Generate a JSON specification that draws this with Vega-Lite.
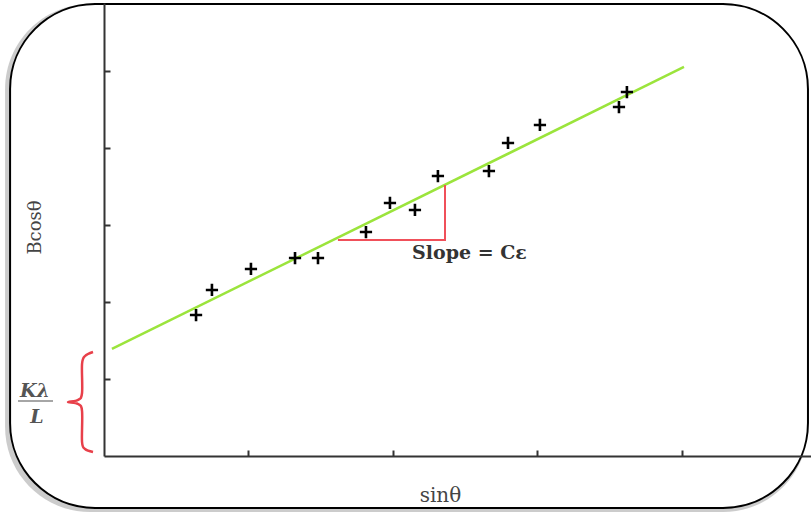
{
  "$schema": "https://vega.github.io/schema/vega-lite/v6.json",
  "width": 707,
  "height": 453,
  "autosize": {"type": "none"},
  "padding": {"left": 104, "top": 3, "right": 0, "bottom": 59},
  "background": "white",
  "config": {"view": {"stroke": null}},
  "datasets": {
    "frame": [{"x": -0.65, "x2": 4.872, "y": -0.675, "y2": 5.87}],
    "bar": [{"x": -0.595, "x2": -0.353, "y": 0.714}],
    "points": [
      {"x": 0.637, "y": 1.831}, {"x": 0.747, "y": 2.156}, {"x": 1.017, "y": 2.429},
      {"x": 1.322, "y": 2.571}, {"x": 1.481, "y": 2.571}, {"x": 1.813, "y": 2.909},
      {"x": 1.979, "y": 3.286}, {"x": 2.152, "y": 3.195}, {"x": 2.311, "y": 3.636},
      {"x": 2.664, "y": 3.701}, {"x": 2.796, "y": 4.065}, {"x": 3.017, "y": 4.299},
      {"x": 3.564, "y": 4.532}, {"x": 3.619, "y": 4.727}
    ],
    "fit": [{"x": 0.055, "y": 1.39, "o": 0}, {"x": 4.014, "y": 5.052, "o": 1}],
    "triangle": [
      {"x": 1.619, "y": 2.805, "o": 0},
      {"x": 2.36, "y": 2.805, "o": 1},
      {"x": 2.36, "y": 3.519, "o": 2}
    ],
    "brace": [
      {"x": -0.076, "y": 1.351, "o": 0}, {"x": -0.131, "y": 1.299, "o": 1},
      {"x": -0.152, "y": 1.195, "o": 2}, {"x": -0.152, "y": 0.818, "o": 3},
      {"x": -0.18, "y": 0.727, "o": 4}, {"x": -0.249, "y": 0.701, "o": 5},
      {"x": -0.18, "y": 0.675, "o": 6}, {"x": -0.152, "y": 0.584, "o": 7},
      {"x": -0.152, "y": 0.182, "o": 8}, {"x": -0.131, "y": 0.091, "o": 9},
      {"x": -0.076, "y": 0.052, "o": 10}
    ],
    "labels": [
      {"x": 2.132, "y": 2.63, "label": "Slope = Cε", "kind": "slope"},
      {"x": -0.478, "y": 0.85, "label": "Kλ", "kind": "num"},
      {"x": -0.464, "y": 0.5, "label": "L", "kind": "den"}
    ]
  },
  "encoding": {
    "x": {
      "field": "x", "type": "quantitative",
      "scale": {"domain": [0, 4.893], "nice": false, "zero": false},
      "axis": {
        "title": "sinθ", "values": [1, 2, 3, 4], "labels": false, "grid": false,
        "domainColor": "#333", "domainWidth": 2, "tickColor": "#333", "tickWidth": 2, "tickSize": -6,
        "zindex": 1, "titleFont": "DejaVu Serif", "titleFontSize": 20, "titleFontWeight": "normal",
        "titleColor": "#444", "titleX": 336, "titleY": 39, "titleBaseline": "middle", "titleAlign": "center"
      }
    },
    "y": {
      "field": "y", "type": "quantitative",
      "scale": {"domain": [0, 5.883], "nice": false, "zero": false},
      "axis": {
        "title": "Bcosθ", "values": [1, 2, 3, 4, 5], "labels": false, "grid": false,
        "domainColor": "#333", "domainWidth": 2, "tickColor": "#333", "tickWidth": 2, "tickSize": -6,
        "zindex": 1, "titleFont": "DejaVu Serif", "titleFontSize": 18,
        "titleFontWeight": "normal", "titleColor": "#444", "titleAngle": -90,
        "titleX": -69, "titleY": 224, "titleBaseline": "middle", "titleAlign": "center"
      }
    }
  },
  "layer": [
    {
      "data": {"name": "frame"},
      "mark": {"type": "rect", "cornerRadius": 85, "fill": "#9a9a9a", "opacity": 0.5, "xOffset": -5, "yOffset": 4},
      "encoding": {"x2": {"field": "x2"}, "y2": {"field": "y2"}}
    },
    {
      "data": {"name": "frame"},
      "mark": {"type": "rect", "cornerRadius": 85, "fill": "white", "stroke": "black", "strokeWidth": 2},
      "encoding": {"x2": {"field": "x2"}, "y2": {"field": "y2"}}
    },
    {
      "data": {"name": "fit"},
      "mark": {"type": "line", "color": "#9be43c", "strokeWidth": 2.5},
      "encoding": {"order": {"field": "o"}}
    },
    {
      "data": {"name": "triangle"},
      "mark": {"type": "line", "color": "#f0505a", "strokeWidth": 2},
      "encoding": {"order": {"field": "o"}}
    },
    {
      "data": {"name": "points"},
      "mark": {"type": "point", "shape": "M-1,0H1M0,-1V1", "size": 150, "filled": false, "stroke": "black", "strokeWidth": 2.6, "opacity": 1}
    },
    {
      "data": {"name": "brace"},
      "mark": {"type": "line", "color": "#e8404a", "strokeWidth": 2.5, "interpolate": "cardinal"},
      "encoding": {"order": {"field": "o"}}
    },
    {
      "data": {"name": "bar"},
      "mark": {"type": "rule", "color": "#888", "strokeWidth": 1.5},
      "encoding": {"x2": {"field": "x2"}}
    },
    {
      "data": {"name": "labels"},
      "transform": [{"filter": "datum.kind == 'slope'"}],
      "mark": {"type": "text", "font": "DejaVu Serif", "fontSize": 19, "fontWeight": "bold", "color": "#333", "align": "left", "baseline": "middle"},
      "encoding": {"text": {"field": "label"}}
    },
    {
      "data": {"name": "labels"},
      "transform": [{"filter": "datum.kind != 'slope'"}],
      "mark": {"type": "text", "font": "DejaVu Serif", "fontSize": 19, "fontStyle": "italic", "fontWeight": "bold", "color": "#555", "align": "center", "baseline": "middle"},
      "encoding": {"text": {"field": "label"}}
    }
  ]
}
